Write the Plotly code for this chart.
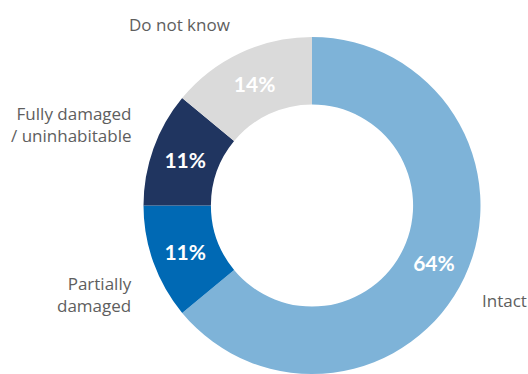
import plotly.graph_objects as go

# Housing condition shares
categories = ["Intact", "Partially damaged", "Fully damaged / uninhabitable", "Do not know"]
shares = [64, 11, 11, 14]
colors = ["#7EB3D8", "#0069B4", "#203560", "#DADADA"]

# Outer text for each category (line-broken as displayed)
label_texts = ["Intact", "Partially<br>damaged", "Fully damaged<br>/ uninhabitable", "Do not know"]

W, H = 528, 374
cx, cy, r = 312, 206, 169

fig = go.Figure(
    go.Pie(
        labels=categories,
        values=shares,
        marker=dict(colors=colors, line=dict(width=0)),
        hole=0.6,
        sort=False,
        direction="clockwise",
        rotation=0,
        texttemplate="%{value}%",
        textposition="inside",
        insidetextorientation="horizontal",
        textfont=dict(family="Lato", size=21, color="white", weight="bold"),
        hoverinfo="label+percent",
        showlegend=False,
        domain=dict(x=[(cx - r) / W, (cx + r) / W], y=[0, 1 - (cy - r) / H]),
    )
)

label_font = dict(family="Open Sans", size=17, color="#5E5E5E")
# (x, y, xanchor) in pixels for each outer label
label_pos = [
    (480, 300, "left"),
    (134, 294, "right"),
    (134, 124, "right"),
    (179, 24, "center"),
]
for txt, (x, y, anchor) in zip(label_texts, label_pos):
    fig.add_annotation(
        x=x / W, y=1 - y / H, xref="paper", yref="paper",
        text=txt, showarrow=False, xanchor=anchor, yanchor="middle",
        align=anchor if anchor != "center" else "center",
        font=label_font,
    )

fig.update_layout(
    width=W, height=H,
    margin=dict(l=0, r=0, t=0, b=0),
    paper_bgcolor="white",
    plot_bgcolor="white",
)

fig.write_html("out.html")
